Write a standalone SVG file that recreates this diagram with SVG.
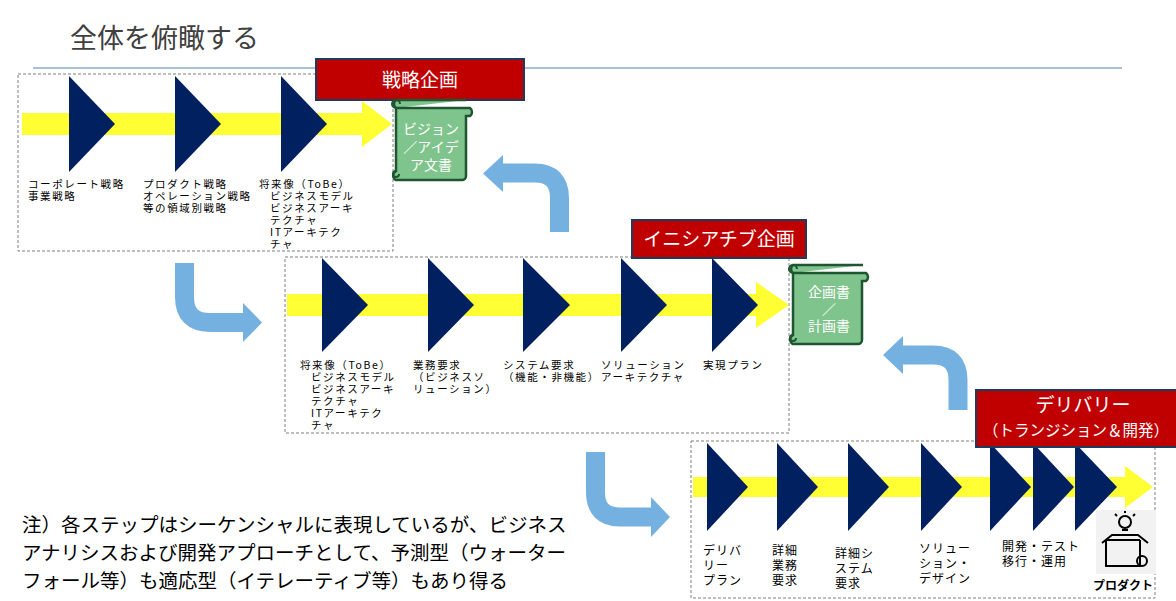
<svg xmlns="http://www.w3.org/2000/svg" width="1176" height="601" viewBox="0 0 1176 601">
<style>
text{font-family:"Noto Sans CJK JP","Noto Sans",sans-serif}
.box{fill:#fff;stroke:#7f7f7f;stroke-width:1;stroke-dasharray:3 2}
.band{fill:#ffff33}
.tri{fill:#002060}
.lbl{font-size:10.5px;letter-spacing:1.6px;fill:#000}
.lbl3{font-size:12px;letter-spacing:1px;fill:#000}
.red{fill:#c00000;stroke:#1f3a5a;stroke-width:2}
.redt{fill:#fff;font-size:19px;text-anchor:middle}
.scroll{fill:#7fc48c;stroke:#1e5631;stroke-width:2.5}
.st{fill:#fff;font-size:14px;text-anchor:middle}
.blue{fill:none;stroke:#74b1e1;stroke-width:19}
.bh{fill:#74b1e1}
.note{font-size:19.5px;fill:#000}
</style>
<rect width="1176" height="601" fill="#fff"/>
<text x="70" y="48" font-size="27" fill="#404040">全体を俯瞰する</text>
<line x1="33" y1="68" x2="1122" y2="68" stroke="#8eaacb" stroke-width="1.5"/>

<g id="connectors">
<path class="blue" d="M559.5,232 V198 Q559.5,173 534.5,173 H500"/>
<polygon class="bh" points="503,155 483,173.5 503,192"/>
<path class="blue" d="M184.5,263 V297 Q184.5,322.5 210,322.5 H244"/>
<polygon class="bh" points="243,303 262,322.5 243,342"/>
<path class="blue" d="M958,410 V380 Q958,355 933,355 H900"/>
<polygon class="bh" points="903,336 883,355 903,374"/>
<path class="blue" d="M595.5,452 V492 Q595.5,517 620,517 H652"/>
<polygon class="bh" points="651,497 670,517 651,537"/>
</g>

<g id="stage1">
<rect class="box" x="18" y="74" width="375" height="177"/>
<rect class="band" x="22" y="113" width="342" height="22"/>
<polygon class="band" points="362,101 392,124 362,147"/>
<polygon class="tri" points="69,76 115,124 69,172"/>
<polygon class="tri" points="175,76 221,124 175,172"/>
<polygon class="tri" points="281,76 327,124 281,172"/>
<text class="lbl" x="28" y="188">コーポレート戦略</text>
<text class="lbl" x="28" y="200">事業戦略</text>
<text class="lbl" x="143" y="188">プロダクト戦略</text>
<text class="lbl" x="143" y="200">オペレーション戦略</text>
<text class="lbl" x="143" y="212">等の領域別戦略</text>
<text class="lbl" x="259" y="188">将来像（ToBe）</text>
<text class="lbl" x="270" y="200">ビジネスモデル</text>
<text class="lbl" x="270" y="212">ビジネスアーキ</text>
<text class="lbl" x="270" y="224">テクチャ</text>
<text class="lbl" x="270" y="236">ITアーキテク</text>
<text class="lbl" x="270" y="248">チャ</text>
</g>

<g id="title1">
<rect class="red" x="316" y="59" width="208" height="41"/>
<text class="redt" x="420" y="87">戦略企画</text>
</g>

<g id="doc1">
<path class="scroll" d="M396,108 H470 a5,5 0 0 1 0,8 H466 V176 a4,4 0 0 1 -4,4 H396 a5,5 0 0 1 0,-9 V108 a5,5 0 0 1 0,-8 h70"/>
<path d="M396,108 a4,4 0 1 1 4,-4 M396,171 a3,3 0 1 0 3,3" fill="none" stroke="#1e5631" stroke-width="2"/>
<text class="st" x="431" y="134">ビジョン</text>
<text class="st" x="431" y="152">／アイデ</text>
<text class="st" x="431" y="170">ア文書</text>
</g>

<g id="stage2">
<rect class="box" x="285" y="257" width="504" height="176"/>
<rect class="band" x="287" y="294" width="472" height="22"/>
<polygon class="band" points="756,282 789,305 756,328"/>
<polygon class="tri" points="322,258 368,305 322,352"/>
<polygon class="tri" points="428,258 474,305 428,352"/>
<polygon class="tri" points="523,258 570,305 523,352"/>
<polygon class="tri" points="621,258 667,305 621,352"/>
<polygon class="tri" points="712,258 758,305 712,352"/>
<text class="lbl" x="300" y="369">将来像（ToBe）</text>
<text class="lbl" x="311" y="381">ビジネスモデル</text>
<text class="lbl" x="311" y="393">ビジネスアーキ</text>
<text class="lbl" x="311" y="405">テクチャ</text>
<text class="lbl" x="311" y="417">ITアーキテク</text>
<text class="lbl" x="311" y="429">チャ</text>
<text class="lbl" x="413" y="369">業務要求</text>
<text class="lbl" x="413" y="381">（ビジネスソ</text>
<text class="lbl" x="413" y="393">リューション）</text>
<text class="lbl" x="503" y="369">システム要求</text>
<text class="lbl" x="503" y="381">（機能・非機能）</text>
<text class="lbl" x="601" y="369">ソリューション</text>
<text class="lbl" x="601" y="381">アーキテクチャ</text>
<text class="lbl" x="703" y="369">実現プラン</text>
</g>

<g id="title2">
<rect class="red" x="632" y="220" width="174" height="38"/>
<text class="redt" x="719" y="246">イニシアチブ企画</text>
</g>

<g id="doc2">
<path class="scroll" d="M793,273 H866 a5,5 0 0 1 0,8 H862 V340 a4,4 0 0 1 -4,4 H793 a5,5 0 0 1 0,-9 V273 a5,5 0 0 1 0,-8 h70"/>
<path d="M793,273 a4,4 0 1 1 4,-4 M793,335 a3,3 0 1 0 3,3" fill="none" stroke="#1e5631" stroke-width="2"/>
<text class="st" x="829" y="297">企画書</text>
<text class="st" x="829" y="314">／</text>
<text class="st" x="829" y="331">計画書</text>
</g>

<g id="stage3">
<rect class="box" x="691" y="441" width="464" height="157"/>
<rect class="band" x="693" y="477" width="435" height="20"/>
<polygon class="band" points="1125,466 1153,487 1125,508"/>
<polygon class="tri" points="707,443 748,487 707,531"/>
<polygon class="tri" points="777,443 818,487 777,531"/>
<polygon class="tri" points="848,443 889,487 848,531"/>
<polygon class="tri" points="921,443 962,487 921,531"/>
<polygon class="tri" points="990,443 1031,487 990,531"/>
<polygon class="tri" points="1033,443 1074,487 1033,531"/>
<polygon class="tri" points="1075,443 1117,487 1075,531"/>
<text class="lbl3" x="703" y="555">デリバ</text>
<text class="lbl3" x="703" y="570">リー</text>
<text class="lbl3" x="703" y="585">プラン</text>
<text class="lbl3" x="772" y="555">詳細</text>
<text class="lbl3" x="772" y="570">業務</text>
<text class="lbl3" x="772" y="585">要求</text>
<text class="lbl3" x="835" y="558">詳細シ</text>
<text class="lbl3" x="835" y="573">ステム</text>
<text class="lbl3" x="835" y="588">要求</text>
<text class="lbl3" x="919" y="553">ソリュー</text>
<text class="lbl3" x="919" y="568">ション・</text>
<text class="lbl3" x="919" y="583">デザイン</text>
<text class="lbl3" x="1002" y="551">開発・テスト</text>
<text class="lbl3" x="1002" y="566">移行・運用</text>
</g>

<g id="product">
<rect x="1096" y="510" width="60" height="64" fill="#f2f2f2"/>
<g fill="none" stroke="#000" stroke-width="2">
<circle cx="1125" cy="522" r="6"/>
<line x1="1122" y1="530" x2="1128" y2="530"/>
<line x1="1115" y1="514" x2="1117" y2="516"/><line x1="1135" y1="514" x2="1133" y2="516"/><line x1="1125" y1="511" x2="1125" y2="513"/>
<path d="M1102,543 l10,-8 h26 l10,8 M1106,540 v26 h34 v-26 M1106,540 h34 M1112,535 l-10,8 M1138,535 l10,8"/>
<circle cx="1142" cy="561" r="5"/>
</g>
<text x="1093" y="590" font-size="12" font-weight="bold" fill="#000">プロダクト</text>
</g>

<g id="title3">
<rect class="red" x="976" y="390" width="202" height="57"/>
<text class="redt" x="1083" y="412" font-size="18">デリバリー</text>
<text class="redt" x="1076" y="436" style="font-size:15.5px">（トランジション＆開発）</text>
</g>

<g id="note">
<text class="note" x="22" y="532">注）各ステップはシーケンシャルに表現しているが、ビジネス</text>
<text class="note" x="22" y="560">アナリシスおよび開発アプローチとして、予測型（ウォーター</text>
<text class="note" x="22" y="588">フォール等）も適応型（イテレーティブ等）もあり得る</text>
</g>
</svg>
